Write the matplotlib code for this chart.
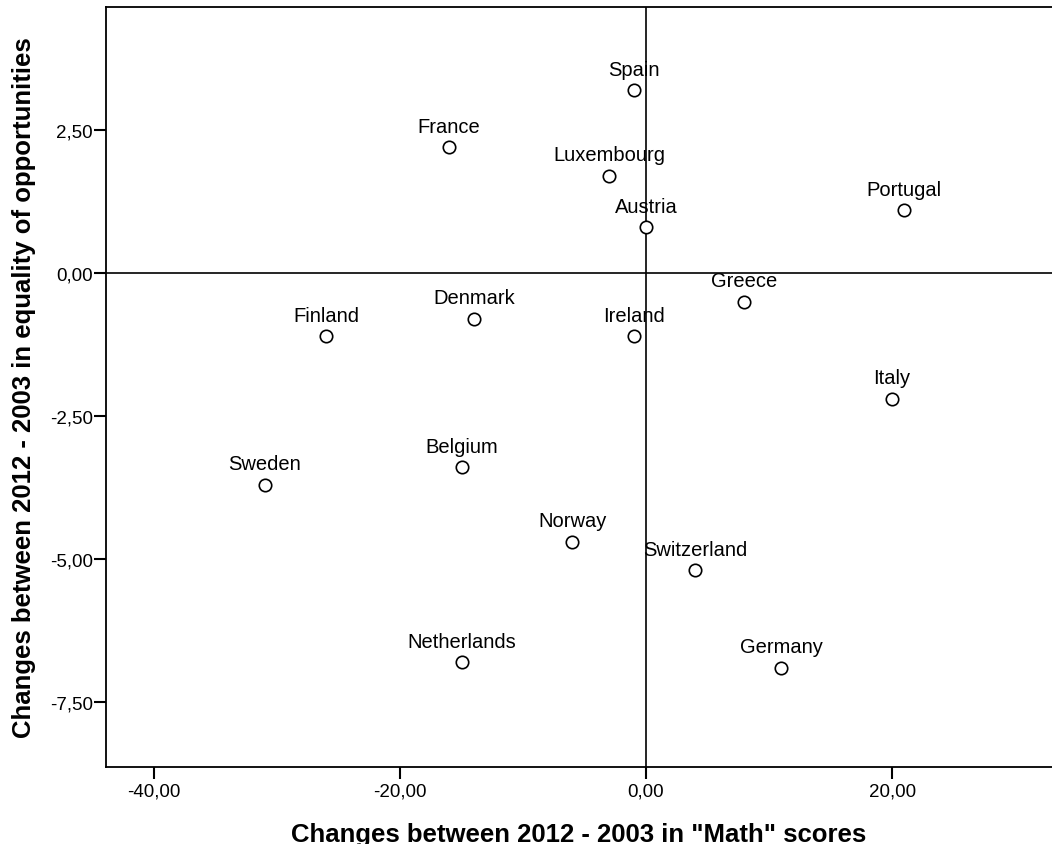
import matplotlib.pyplot as plt
from matplotlib.ticker import FuncFormatter

# Данные
countries = ['Spain', 'France', 'Luxembourg', 'Austria', 'Portugal', 'Greece',
             'Denmark', 'Finland', 'Ireland', 'Italy', 'Belgium', 'Sweden',
             'Norway', 'Switzerland', 'Netherlands', 'Germany']
math_change = [-1, -16, -3, 0, 21, 8, -14, -26, -1, 20, -15, -31, -6, 4, -15, 11]
equality_change = [3.2, 2.2, 1.7, 0.8, 1.1, -0.5, -0.8, -1.1, -1.1, -2.2, -3.4,
                   -3.7, -4.7, -5.2, -6.8, -6.9]

plt.rcParams['font.family'] = ['Liberation Sans', 'DejaVu Sans']

fig = plt.figure(figsize=(10.52, 8.45), dpi=100)
ax = fig.add_axes([0.1008, 0.0911, 0.8992, 0.8994])

ax.axhline(0, color='black', lw=1.2, zorder=1)
ax.axvline(0, color='black', lw=1.2, zorder=1)

ax.scatter(math_change, equality_change, s=80, facecolors='white',
           edgecolors='black', linewidths=1.2, zorder=3)
for name, x, y in zip(countries, math_change, equality_change):
    ax.annotate(name, (x, y), xytext=(0, 11), textcoords='offset points',
                ha='center', va='baseline', fontsize=14.5)

ax.set_xlim(-43.9, 33.0)
ax.set_ylim(-8.64, 4.65)
ax.set_xticks([-40, -20, 0, 20])
ax.set_yticks([-7.5, -5, -2.5, 0, 2.5])
fmt = FuncFormatter(lambda v, p: f'{v:.2f}'.replace('.', ','))
ax.xaxis.set_major_formatter(fmt)
ax.yaxis.set_major_formatter(fmt)
ax.tick_params(length=8.5, width=1.5, labelsize=13.5)
ax.tick_params(axis='x', pad=3)
ax.tick_params(axis='y', pad=1)
ax.spines['right'].set_visible(False)
for s in ['left', 'bottom', 'top']:
    ax.spines[s].set_linewidth(1.3)

ax.set_xlabel('Changes between 2012 - 2003 in "Math" scores',
              fontsize=18.5, fontweight='bold', labelpad=16)
ax.set_ylabel('Changes between 2012 - 2003 in equality of opportunities',
              fontsize=18.5, fontweight='bold', labelpad=10)

fig.savefig('out.png', dpi=100)
